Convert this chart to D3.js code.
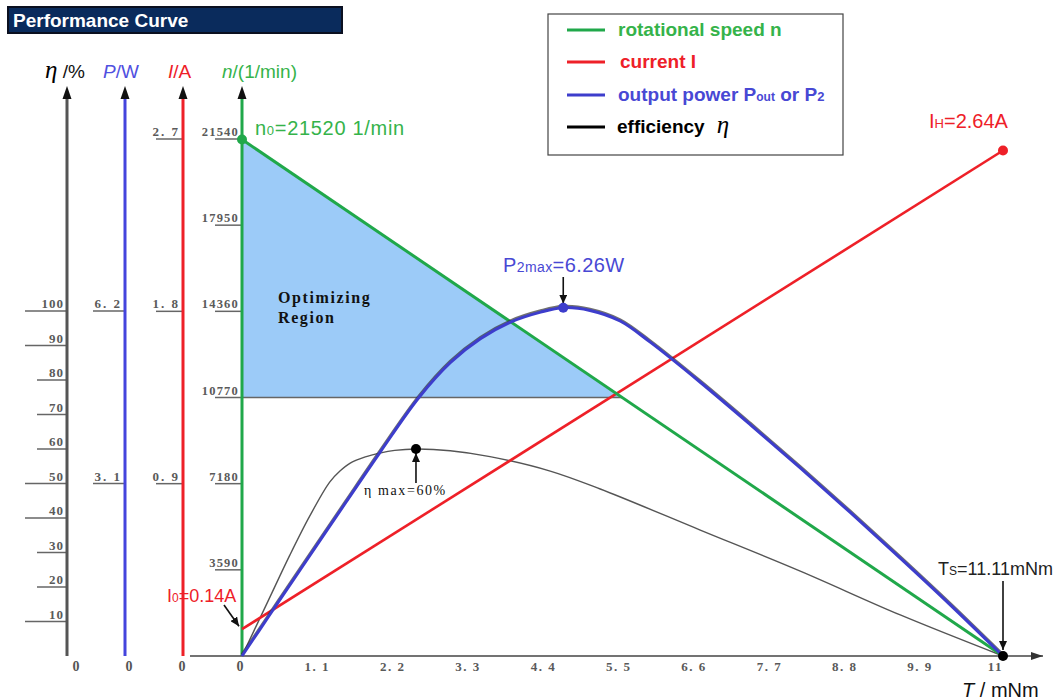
<!DOCTYPE html>
<html>
<head>
<meta charset="utf-8">
<script src="https://cdn.jsdelivr.net/npm/d3@7"></script>
<style>
  body { margin: 0; background: #fff; }
  svg { display: block; }
</style>
</head>
<body>
<svg id="chart" width="1054" height="700" font-family="Liberation Sans, Arial, sans-serif"></svg>
<script>
// ---- Motor performance data ----
const torqueTicks  = [1.1, 2.2, 3.3, 4.4, 5.5, 6.6, 7.7, 8.8, 9.9, 11];
const effTicks     = [10, 20, 30, 40, 50, 60, 70, 80, 90, 100];
const effLongTicks = [10, 40, 50, 90, 100];
const powerTicks   = [3.1, 6.2];
const currentTicks = [0.9, 1.8, 2.7];
const speedTicks   = [3590, 7180, 10770, 14360, 17950, 21540];

// no-load / stall end points (mNm, 1/min, A)
const speedTorque   = [0, 11.11];
const speedValues   = [21520, 0];
const currentTorque = [0, 11.11];
const currentValues = [0.14, 2.64];

// output power P2 (W) vs torque (mNm)
const powerTorque = [0, 0.41, 0.85, 1.51, 2.02, 2.58, 3.04, 3.48, 3.92, 4.36, 4.69, 5.08, 5.52, 5.96, 6.69, 7.42, 8.15, 8.88, 9.61, 10.34, 11.11];
const powerValues = [0, 0.75, 1.55, 2.75, 3.67, 4.64, 5.27, 5.70, 6.00, 6.18, 6.26, 6.21, 6.02, 5.64, 4.92, 4.16, 3.38, 2.58, 1.76, 0.92, 0];

// efficiency (%) vs torque (mNm)
const effTorque = [0, 0.38, 0.70, 0.99, 1.28, 1.43, 1.58, 1.80, 2.01, 2.23, 2.54, 3.04, 3.62, 4.50, 5.23, 6.69, 8.15, 9.61, 11.11];
const effValues = [0, 15.9, 29.3, 40.6, 50.4, 53.6, 55.9, 57.7, 58.8, 59.6, 60.0, 59.5, 57.8, 53.6, 48.4, 36.5, 24.6, 11.9, 0];

// optimizing region: speed band between these limits
const regionSpeed = [10770, 21520];

const noLoadSpeed = 21520, noLoadCurrent = 0.14, stallCurrent = 2.64, stallTorque = 11.11;
const maxPower = 6.26, maxPowerTorque = 4.69, maxEff = 60, maxEffTorque = 2.54;

// ---- colours ----
const GREEN = "#20a84a", RED = "#ee2028", BLUE = "#3d3dcc";
const GREEN_T = "#35b34a", BLUE_T = "#4848d4";
const SERIF = "Liberation Serif, Times New Roman, serif";

const svg = d3.select("#chart");

// ---- scales ----
const x    = d3.scaleLinear().domain([0, 11.11]).range([242, 1003]);
const yEff = d3.scaleLinear().domain([0, 100]).range([656, 311]);
const yPow = d3.scaleLinear().domain([0, 6.2]).range([656, 311]);
const yCur = d3.scaleLinear().domain([0, 2.7]).range([656, 139]);
const ySpd = d3.scaleLinear().domain([0, 21540]).range([656, 139]);

const fmt = d => String(d).replace(".", ". ");

// ---- markers ----
const defs = svg.append("defs");
function arrowMarker(id, color, w, h) {
  defs.append("marker")
    .attr("id", id).attr("markerUnits", "userSpaceOnUse")
    .attr("viewBox", `0 0 ${w} ${h}`)
    .attr("refX", w).attr("refY", h / 2)
    .attr("markerWidth", w).attr("markerHeight", h)
    .attr("orient", "auto")
    .append("path").attr("d", `M0,0 L${w},${h / 2} L0,${h} Z`).attr("fill", color);
}
arrowMarker("ah-black", "#111", 9, 8);
arrowMarker("ax-grey", "#333", 12, 8);

// ---- title banner ----
svg.append("rect").attr("x", 8).attr("y", 7).attr("width", 334).attr("height", 26)
  .attr("fill", "#0a2b5c").attr("stroke", "#0b1020").attr("stroke-width", 2);
svg.append("text").attr("x", 13).attr("y", 27).attr("fill", "#fff")
  .attr("font-size", 19).attr("font-weight", "bold").text("Performance Curve");

// ---- optimizing region ----
const cornerT = stallTorque * (noLoadSpeed - regionSpeed[0]) / noLoadSpeed;
svg.append("path")
  .attr("d", d3.line()([[x(0), ySpd(regionSpeed[1])], [x(cornerT), ySpd(regionSpeed[0])], [x(0), ySpd(regionSpeed[0])]]) + "Z")
  .attr("fill", "#9ccbf8");
svg.append("line").attr("x1", x(0)).attr("x2", x(cornerT))
  .attr("y1", ySpd(regionSpeed[0])).attr("y2", ySpd(regionSpeed[0]))
  .attr("stroke", "#666").attr("stroke-width", 1.5);
const regText = svg.append("text").attr("font-family", SERIF)
  .attr("font-weight", "bold").attr("font-size", 16).attr("letter-spacing", 1.6).attr("fill", "#111");
regText.append("tspan").attr("x", 278).attr("y", 303).text("Optimizing");
regText.append("tspan").attr("x", 278).attr("y", 323).text("Region");

// ---- vertical axes ----
const axes = [
  { x: 67,  color: "#555",    scale: yEff, ticks: effTicks,     x0: null, ls: 1,   fs: 13 },
  { x: 125, color: "#4444dd", scale: yPow, ticks: powerTicks,   x0: 93,   ls: 2,   fs: 13 },
  { x: 183, color: RED,       scale: yCur, ticks: currentTicks, x0: 156,  ls: 2,   fs: 13 },
  { x: 242, color: GREEN,     scale: ySpd, ticks: speedTicks,   x0: 215,  ls: 1.2, fs: 12.5 }
];
const TOP = 88;
axes.forEach((a, i) => {
  const g = svg.append("g");
  a.ticks.forEach(t => {
    const yy = a.scale(t);
    const x0 = i === 0 ? (effLongTicks.includes(t) ? 25 : 37) : a.x0;
    g.append("line").attr("x1", x0).attr("x2", a.x).attr("y1", yy).attr("y2", yy)
      .attr("stroke", "#666").attr("stroke-width", 1.5);
    g.append("text").attr("x", a.x - 3).attr("y", yy - 3).attr("text-anchor", "end")
      .attr("font-family", SERIF).attr("font-size", a.fs).attr("letter-spacing", a.ls)
      .attr("font-weight", "bold").attr("fill", "#5a5a5a")
      .text(i === 0 || i === 3 ? t : fmt(t));
  });
  g.append("line").attr("x1", a.x).attr("x2", a.x).attr("y1", 656).attr("y2", TOP + 10)
    .attr("stroke", a.color).attr("stroke-width", 3);
  g.append("path").attr("d", `M${a.x},${TOP - 2} L${a.x - 4.5},${TOP + 11} L${a.x + 4.5},${TOP + 11} Z`)
    .attr("fill", "#111");
});
// zero labels under each vertical axis
[76, 129, 182, 240].forEach(px => {
  svg.append("text").attr("x", px).attr("y", 671).attr("text-anchor", "middle")
    .attr("font-family", SERIF).attr("font-size", 14).attr("font-weight", "bold")
    .attr("fill", "#555").text("0");
});

// axis titles
const t1 = svg.append("text").attr("y", 78).attr("font-size", 19);
t1.append("tspan").attr("x", 45).attr("font-family", SERIF).attr("font-style", "italic")
  .attr("font-size", 25).attr("fill", "#000").text("η");
t1.append("tspan").attr("fill", "#111").text(" /%");
const t2 = svg.append("text").attr("x", 103).attr("y", 78).attr("font-size", 19).attr("fill", "#5050e0");
t2.append("tspan").attr("font-style", "italic").text("P");
t2.append("tspan").text("/W");
const t3 = svg.append("text").attr("x", 168).attr("y", 78).attr("font-size", 19).attr("fill", RED);
t3.append("tspan").attr("font-style", "italic").text("I");
t3.append("tspan").text("/A");
const t4 = svg.append("text").attr("x", 222).attr("y", 78).attr("font-size", 19).attr("fill", GREEN_T);
t4.append("tspan").attr("font-style", "italic").text("n");
t4.append("tspan").text("/(1/min)");

// ---- torque axis ----
svg.append("line").attr("x1", 190).attr("x2", 1043).attr("y1", 656).attr("y2", 656)
  .attr("stroke", "#444").attr("stroke-width", 1.5).attr("marker-end", "url(#ax-grey)");
torqueTicks.forEach(t => {
  svg.append("text").attr("x", x(t)).attr("y", 671).attr("text-anchor", "middle")
    .attr("font-family", SERIF).attr("font-size", 13).attr("letter-spacing", 1.5)
    .attr("font-weight", "bold").attr("fill", "#5a5a5a").text(fmt(t));
});
const tt = svg.append("text").attr("x", 962).attr("y", 697).attr("font-size", 20).attr("fill", "#111");
tt.append("tspan").attr("font-style", "italic").text("T");
tt.append("tspan").text(" / mNm");

// ---- curves ----
const effLine = d3.line().x(d => x(d[0])).y(d => yEff(d[1])).curve(d3.curveCatmullRom.alpha(0.5));
svg.append("path").datum(d3.zip(effTorque, effValues)).attr("d", effLine)
  .attr("fill", "none").attr("stroke", "#555").attr("stroke-width", 1.4);

svg.append("path").datum(d3.zip(currentTorque, currentValues))
  .attr("d", d3.line().x(d => x(d[0])).y(d => yCur(d[1])))
  .attr("fill", "none").attr("stroke", RED).attr("stroke-width", 2.6);

svg.append("path").datum(d3.zip(speedTorque, speedValues))
  .attr("d", d3.line().x(d => x(d[0])).y(d => ySpd(d[1])))
  .attr("fill", "none").attr("stroke", GREEN).attr("stroke-width", 3);

const powLine = d3.line().x(d => x(d[0])).y(d => yPow(d[1])).curve(d3.curveCatmullRom.alpha(0.5));
const powData = d3.zip(powerTorque, powerValues);
svg.append("path").datum(powData).attr("d", powLine).attr("transform", "translate(0,-1.3)")
  .attr("fill", "none").attr("stroke", "#333").attr("stroke-width", 3).attr("opacity", 0.7);
svg.append("path").datum(powData).attr("d", powLine)
  .attr("fill", "none").attr("stroke", BLUE).attr("stroke-width", 3);

// ---- annotations ----
function arrow(x1, y1, x2, y2) {
  svg.append("line").attr("x1", x1).attr("y1", y1).attr("x2", x2).attr("y2", y2)
    .attr("stroke", "#111").attr("stroke-width", 1.6).attr("marker-end", "url(#ah-black)");
}
function dot(cx, cy, color) {
  svg.append("circle").attr("cx", cx).attr("cy", cy).attr("r", 5).attr("fill", color);
}

// no-load speed
dot(x(0), ySpd(noLoadSpeed), GREEN);
const n0 = svg.append("text").attr("x", 255).attr("y", 135).attr("font-size", 20)
  .attr("letter-spacing", 0.7).attr("fill", GREEN_T);
n0.append("tspan").text("n");
n0.append("tspan").attr("font-size", 13).text("0");
n0.append("tspan").text("=21520 1/min");

// max power
arrow(x(maxPowerTorque), 277, x(maxPowerTorque), yPow(maxPower) - 4);
dot(x(maxPowerTorque), yPow(maxPower), BLUE);
const pm = svg.append("text").attr("x", 503).attr("y", 272).attr("font-size", 20)
  .attr("letter-spacing", 0.4).attr("fill", BLUE_T);
pm.append("tspan").text("P");
pm.append("tspan").attr("font-size", 14).text("2max");
pm.append("tspan").text("=6.26W");

// stall current
dot(x(stallTorque), yCur(stallCurrent), RED);
const ih = svg.append("text").attr("x", 929).attr("y", 128).attr("font-size", 20).attr("fill", RED);
ih.append("tspan").text("I");
ih.append("tspan").attr("font-size", 13).text("H");
ih.append("tspan").text("=2.64A");

// no-load current
const i0 = svg.append("text").attr("x", 167).attr("y", 602).attr("font-size", 18).attr("fill", RED);
i0.append("tspan").text("I");
i0.append("tspan").attr("font-size", 12).text("0");
i0.append("tspan").text("=0.14A");
arrow(224, 605, x(0) - 3, yCur(noLoadCurrent) - 3);

// max efficiency
arrow(x(maxEffTorque), 483, x(maxEffTorque), yEff(maxEff) + 4);
dot(x(maxEffTorque), yEff(maxEff), "#000");
svg.append("text").attr("x", 364).attr("y", 495).attr("font-family", SERIF)
  .attr("font-size", 14).attr("letter-spacing", 1.6).attr("fill", "#111").text("η max=60%");

// stall torque
const ts = svg.append("text").attr("x", 938).attr("y", 575).attr("font-size", 18).attr("fill", "#222");
ts.append("tspan").text("T");
ts.append("tspan").attr("font-size", 12).text("S");
ts.append("tspan").text("=11.11mNm");
arrow(x(stallTorque), 581, x(stallTorque), 650);
dot(x(stallTorque), 656, "#000");

// ---- legend ----
const lg = svg.append("g");
lg.append("rect").attr("x", 548).attr("y", 14).attr("width", 295).attr("height", 141)
  .attr("fill", "#fff").attr("stroke", "#444").attr("stroke-width", 1.2);
const legendItems = [
  { color: GREEN, y: 30 },
  { color: RED,   y: 62 },
  { color: BLUE,  y: 95 },
  { color: "#000", y: 127 }
];
legendItems.forEach(it => {
  lg.append("line").attr("x1", 567).attr("x2", 605).attr("y1", it.y).attr("y2", it.y)
    .attr("stroke", it.color).attr("stroke-width", 3);
});
const lt = (y, color, xx) => lg.append("text").attr("x", xx).attr("y", y + 6)
  .attr("font-size", 19).attr("font-weight", "bold").attr("fill", color);
lt(30, GREEN_T, 618).text("rotational speed n");
lt(62, RED, 620).text("current I");
const lp = lt(95, BLUE_T, 618);
lp.append("tspan").text("output power P");
lp.append("tspan").attr("font-size", 12).text("out");
lp.append("tspan").text(" or P");
lp.append("tspan").attr("font-size", 13).text("2");
const le = lt(127, "#000", 617);
le.append("tspan").text("efficiency");
le.append("tspan").attr("font-family", SERIF).attr("font-style", "italic")
  .attr("font-weight", "normal").attr("font-size", 25).attr("dx", 12).text("η");
</script>
</body>
</html>
